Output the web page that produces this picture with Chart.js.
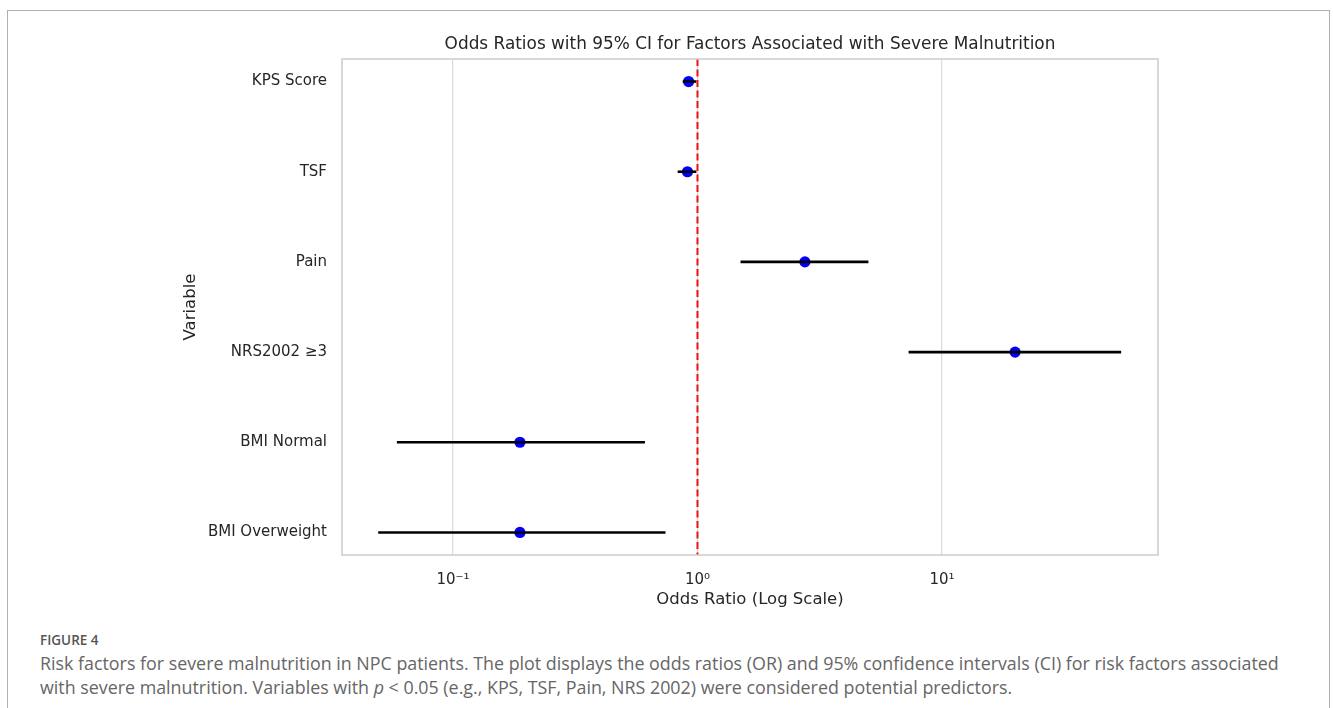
<!DOCTYPE html>
<html>
<head>
<meta charset="utf-8">
<script src="https://cdn.jsdelivr.net/npm/chart.js@4.4.1/dist/chart.umd.min.js"></script>
<style>
  body { margin: 0; background: #fff; width: 1333px; height: 708px; overflow: hidden; position: relative; }
  #frame { position: absolute; left: 7px; top: 10px; width: 1321px; height: 720px; border: 1.5px solid #b0b0b0; border-bottom: none; }
  #wrap { position: absolute; left: 0; top: 0; width: 1333px; height: 620px; }
  #fig { position: absolute; left: 40px; top: 631px; font-family: "Open Sans", sans-serif; font-size: 13.5px; font-weight: 600; color: #555; }
  #cap { position: absolute; left: 40px; top: 651px; width: 1265px; font-family: "Open Sans", sans-serif; font-size: 17.85px; line-height: 24px; color: #666; }
</style>
</head>
<body>
<div id="frame"></div>
<div id="wrap"><canvas id="forest"></canvas></div>
<div id="fig">FIGURE 4</div>
<div id="cap">Risk factors for severe malnutrition in NPC patients. The plot displays the odds ratios (OR) and 95% confidence intervals (CI) for risk factors associated with severe malnutrition. Variables with <i>p</i> &lt; 0.05 (e.g., KPS, TSF, Pain, NRS 2002) were considered potential predictors.</div>
<script>
// Data
const variables = ['KPS Score', 'TSF', 'Pain', 'NRS2002 \u22653', 'BMI Normal', 'BMI Overweight'];
const oddsRatios = [0.92, 0.91, 2.75, 19.9, 0.188, 0.188];
const ciLower = [0.87, 0.83, 1.50, 7.3, 0.059, 0.0495];
const ciUpper = [0.99, 0.99, 5.0, 54, 0.61, 0.74];
const xTicks = [0.1, 1, 10];
const xTickLabels = ['10\u207B\u00B9', '10\u2070', '10\u00B9'];
const referenceOR = 1;

// axis limits
const xMin = 0.0352, xMax = 76.4;
const yMin = -0.25, yMax = variables.length - 0.75;

const font = 'DejaVu Sans';
const textColor = '#262626';
const chartTitle = 'Odds Ratios with 95% CI for Factors Associated with Severe Malnutrition';

// Error bar segments, one dataset per row
const ciSets = variables.map((v, i) => ({
    label: v + ' CI',
    data: [{ x: ciLower[i], y: i }, { x: ciUpper[i], y: i }],
    showLine: true,
    borderColor: '#000',
    borderWidth: 2.6,
    pointRadius: 0,
    order: 2
}));

// Box around the plot area + title centred over it
const frameBox = {
    id: 'frameBox',
    afterDraw(chart) {
        const { ctx, chartArea: a } = chart;
        ctx.save();
        ctx.strokeStyle = '#cccccc';
        ctx.lineWidth = 1.5;
        ctx.strokeRect(a.left, a.top, a.right - a.left, a.bottom - a.top);
        ctx.fillStyle = textColor;
        ctx.font = '16.9px "' + font + '"';
        ctx.textAlign = 'center';
        ctx.textBaseline = 'middle';
        ctx.fillText(chartTitle, (a.left + a.right) / 2, a.top - 14);
        ctx.restore();
    }
};

new Chart(document.getElementById('forest'), {
    type: 'scatter',
    data: {
        datasets: [
            {
                label: 'OR',
                data: variables.map((v, i) => ({ x: oddsRatios[i], y: i })),
                backgroundColor: '#0000ff',
                borderWidth: 0,
                pointRadius: 5.6,
                order: 3
            },
            ...ciSets,
            {
                label: 'Reference',
                data: [{ x: referenceOR, y: yMin }, { x: referenceOR, y: yMax }],
                showLine: true,
                borderColor: '#ee1111',
                borderWidth: 2,
                borderDash: [7, 3.5],
                pointRadius: 0,
                order: 1
            }
        ]
    },
    options: {
        responsive: true,
        maintainAspectRatio: false,
        animation: false,
        layout: { padding: { left: 175, right: 175, top: 59, bottom: 5 } },
        plugins: {
            legend: { display: false },
            tooltip: { enabled: false },
            title: { display: false }
        },
        scales: {
            x: {
                type: 'logarithmic',
                min: xMin,
                max: xMax,
                afterBuildTicks: (s) => { s.ticks = xTicks.map((v) => ({ value: v })); },
                afterFit: (s) => { s.height = 60; },
                ticks: {
                    autoSkip: false,
                    maxRotation: 0,
                    padding: 16,
                    color: textColor,
                    font: { family: font, size: 15 },
                    callback: (v) => {
                        const k = xTicks.indexOf(v);
                        return k >= 0 ? xTickLabels[k] : '';
                    }
                },
                grid: { color: '#dddddd', lineWidth: 1.3, drawTicks: false },
                border: { display: false },
                title: {
                    display: true,
                    text: 'Odds Ratio (Log Scale)',
                    color: textColor,
                    font: { family: font, size: 16.5 },
                    padding: { top: 0, bottom: 5 }
                }
            },
            y: {
                type: 'linear',
                reverse: true,
                min: yMin,
                max: yMax,
                afterBuildTicks: (s) => { s.ticks = variables.map((v, i) => ({ value: i })); },
                afterFit: (s) => { s.width = 167; },
                ticks: {
                    padding: 15,
                    color: textColor,
                    font: { family: font, size: 15 },
                    callback: (v) => variables[v]
                },
                grid: { display: false, drawTicks: false },
                border: { display: false },
                title: {
                    display: true,
                    text: 'Variable',
                    color: textColor,
                    font: { family: font, size: 16.5 },
                    padding: { top: 6, bottom: 0 }
                }
            }
        }
    },
    plugins: [frameBox]
});
</script>
</body>
</html>
